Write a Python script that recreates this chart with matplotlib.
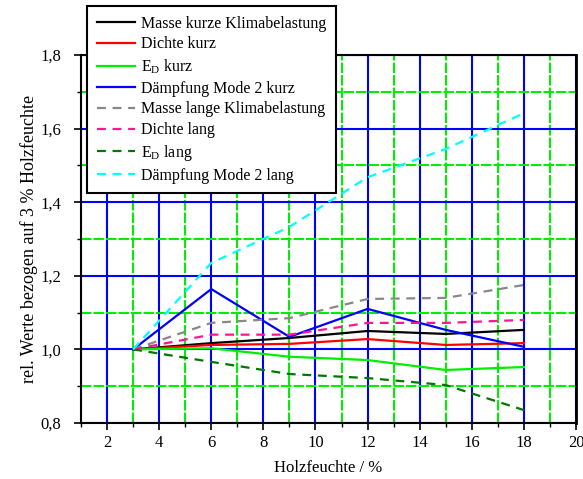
import matplotlib
matplotlib.use("Agg")
import matplotlib.pyplot as plt
from matplotlib.ticker import MultipleLocator, FuncFormatter

plt.rcParams['font.family'] = ['Liberation Serif', 'DejaVu Serif']
plt.rcParams['mathtext.fontset'] = 'custom'
plt.rcParams['mathtext.rm'] = 'Liberation Serif'
plt.rcParams['font.size'] = 12

# Data: wood moisture in %
x = [3, 6, 9, 12, 15, 18]

masse_kurz = [1.0, 1.017, 1.031, 1.050, 1.042, 1.053]
dichte_kurz = [1.0, 1.012, 1.015, 1.028, 1.012, 1.017]
ed_kurz = [1.0, 1.003, 0.980, 0.971, 0.944, 0.952]
daempf_kurz = [1.0, 1.164, 1.034, 1.110, 1.053, 1.007]
masse_lang = [1.0, 1.072, 1.085, 1.137, 1.140, 1.175]
dichte_lang = [1.0, 1.040, 1.040, 1.072, 1.072, 1.080]
ed_lang = [1.0, 0.966, 0.933, 0.922, 0.903, 0.835]
daempf_lang = [1.0, 1.235, 1.333, 1.468, 1.545, 1.642]

labels = ["Masse kurze Klimabelastung", "Dichte kurz", r"E$_\mathrm{D}$ kurz",
          "Dämpfung Mode 2 kurz", "Masse lange Klimabelastung", "Dichte lang",
          r"E$_\mathrm{D}$ lang", "Dämpfung Mode 2 lang"]

fig = plt.figure(figsize=(5.83, 4.79), dpi=100)
ax = fig.add_axes([0.139, 0.117, 0.849, 0.768])

# grid
ax.xaxis.set_major_locator(MultipleLocator(2))
ax.xaxis.set_minor_locator(MultipleLocator(1))
ax.yaxis.set_major_locator(MultipleLocator(0.2))
ax.yaxis.set_minor_locator(MultipleLocator(0.1))
ax.grid(True, which='major', color='#0000ff', linewidth=1.5, linestyle='-')
ax.grid(True, which='minor', color='#00ee00', linewidth=1.5, linestyle=(0, (5, 1)))
ax.set_axisbelow(True)

lw = 1.6
ax.plot(x, masse_kurz, color='black', lw=lw, label=labels[0])
ax.plot(x, dichte_kurz, color='#ff0000', lw=lw, label=labels[1])
ax.plot(x, ed_kurz, color='#00ee00', lw=lw, label=labels[2])
ax.plot(x, daempf_kurz, color='#0000ff', lw=lw, label=labels[3])
ax.plot(x, masse_lang, color='#888888', lw=lw, ls=(0, (4, 3)), label=labels[4])
ax.plot(x, dichte_lang, color='#ff1493', lw=lw, ls=(0, (4, 3)), label=labels[5])
ax.plot(x, ed_lang, color='#007700', lw=lw, ls=(0, (4, 3)), label=labels[6])
ax.plot(x, daempf_lang, color='#00ffff', lw=lw, ls=(0, (4, 3)), label=labels[7])

ax.set_xlim(1, 20)
ax.set_ylim(0.8, 1.8)
ax.set_xticks(range(2, 21, 2))
ax.yaxis.set_major_formatter(FuncFormatter(lambda v, p: f"{v:.1f}".replace('.', ',')))

ax.tick_params(which='major', direction='out', length=5, width=1.2, labelsize=12)
ax.tick_params(which='minor', direction='out', length=3, width=1.0)
ax.tick_params(axis='y', which='major', pad=9)
for s in ax.spines.values():
    s.set_linewidth(1.5)
ax.spines['right'].set_linewidth(2)

ax.set_xlabel("Holzfeuchte / %", fontsize=12, labelpad=7)
ax.set_ylabel("rel. Werte bezogen auf 3 % Holzfeuchte", fontsize=13, labelpad=2)

leg = fig.legend(loc='upper left', bbox_to_anchor=(87 / 583, 1 - 6 / 479),
                 borderaxespad=0, frameon=True, fancybox=False,
                 edgecolor='black', framealpha=1,
                 handlelength=2.4, handletextpad=0.4, labelspacing=0.3,
                 borderpad=0.6, fontsize=11.5)
leg.get_frame().set_linewidth(1.5)

plt.savefig("out.png", dpi=100)
